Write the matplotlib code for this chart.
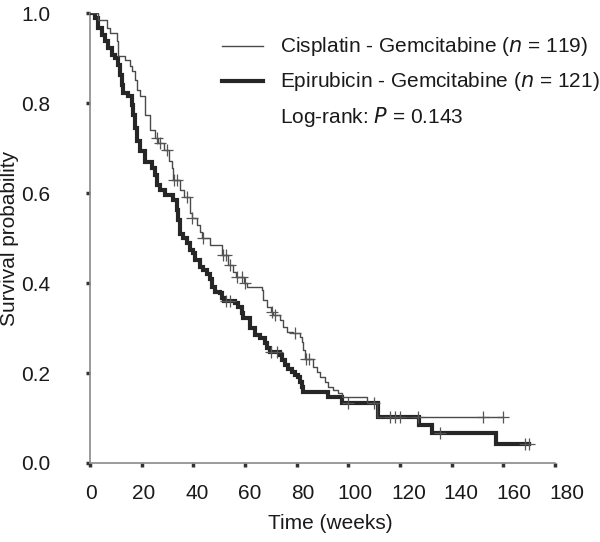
import numpy as np
import matplotlib
matplotlib.use("Agg")
import matplotlib.pyplot as plt
from matplotlib.transforms import ScaledTranslation

plt.rcParams['font.family'] = ['Liberation Sans', 'DejaVu Sans']

# Cisplatin - Gemcitabine (thin line): step times (weeks) and survival after step
cis_time = [0, 3.2, 6.5, 7.7, 10.3, 10.8, 13.5, 15.5, 16.1, 17.4, 18.1, 19.4, 21.3, 23.2,
            25.0, 26.5, 28.5, 30.5, 31.6, 32.2, 34.8, 36.5, 38.7, 39.4, 41.3, 42.6, 43.5,
            46.5, 51.0, 53.5, 55.5, 56.5, 59.5, 60.7, 66.5, 67.1, 68.4, 70.0, 71.0, 73.6,
            74.8, 76.2, 78.5, 81.3, 82.0, 82.6, 83.2, 86.4, 87.8, 89.0, 91.0, 92.3, 94.2,
            96.1, 97.4, 107.1, 111.1]
cis_surv = [1.0, 0.985, 0.967, 0.955, 0.937, 0.905, 0.895, 0.882, 0.871, 0.852, 0.83, 0.816,
            0.774, 0.74, 0.722, 0.711, 0.695, 0.672, 0.656, 0.63, 0.607, 0.592, 0.556, 0.544,
            0.529, 0.514, 0.499, 0.484, 0.462, 0.44, 0.425, 0.414, 0.399, 0.392, 0.384, 0.362,
            0.347, 0.336, 0.329, 0.318, 0.303, 0.292, 0.288, 0.28, 0.27, 0.251, 0.232, 0.214,
            0.203, 0.192, 0.181, 0.17, 0.162, 0.155, 0.147, 0.133, 0.103]
cis_end = 160
cis_cens = [25.8, 27.1, 29.7, 32.6, 33.6, 37.4, 39.4, 43.9, 51.5, 52.8, 54.2, 56.8, 58.7,
            60.0, 70.3, 71.6, 79.4, 83.6, 84.6, 110, 127, 152, 160]

# Epirubicin - Gemcitabine (thick line)
epi_time = [0, 1.9, 3.2, 4.5, 5.8, 7.1, 8.4, 9.7, 11.0, 11.6, 12.3, 12.9, 14.8, 16.1, 16.8,
            17.4, 18.1, 19.4, 21.3, 23.9, 25.2, 25.8, 27.1, 29.0, 32.3, 33.6, 34.2, 34.8,
            36.1, 37.4, 38.7, 40.0, 40.7, 42.6, 43.9, 45.2, 46.5, 47.1, 48.4, 50.3, 51.0,
            52.0, 56.1, 57.4, 58.7, 59.3, 61.9, 63.9, 65.8, 67.8, 68.4, 69.5, 73.6, 74.2,
            75.5, 76.8, 78.1, 79.4, 80.7, 81.3, 82.0, 82.6, 92.2, 97.4, 111.5, 127.4, 132.5,
            157.0]
epi_surv = [1.0, 0.989, 0.967, 0.952, 0.938, 0.922, 0.907, 0.9, 0.885, 0.863, 0.84, 0.822,
            0.815, 0.796, 0.774, 0.744, 0.715, 0.693, 0.67, 0.656, 0.641, 0.619, 0.607, 0.596,
            0.584, 0.562, 0.54, 0.51, 0.499, 0.488, 0.473, 0.466, 0.451, 0.436, 0.429, 0.421,
            0.41, 0.392, 0.381, 0.377, 0.366, 0.361, 0.355, 0.347, 0.333, 0.322, 0.3, 0.284,
            0.277, 0.266, 0.255, 0.247, 0.24, 0.229, 0.218, 0.21, 0.203, 0.196, 0.192, 0.181,
            0.17, 0.158, 0.147, 0.133, 0.103, 0.084, 0.067, 0.042]
epi_end = 170
epi_cens = [52.8, 54.2, 70.0, 72.3, 99.7, 116, 118, 120, 135.5, 168.5, 170]

x_ticks = [0, 20, 40, 60, 80, 100, 120, 140, 160, 180]
y_ticks = [0.0, 0.2, 0.4, 0.6, 0.8, 1.0]


def surv_at(times, survs, t):
    idx = np.searchsorted(np.asarray(times), t, side='right') - 1
    return np.asarray(survs)[idx]


FS = 15
TXT = '#1a1a1a'

fig = plt.figure(figsize=(6.0, 5.42), dpi=100)
ax = fig.add_axes([0.15, 0.1458, 0.775, 0.83])

tc = np.append(cis_time, cis_end)
sc = np.append(cis_surv, cis_surv[-1])
te = np.append(epi_time, epi_end)
se = np.append(epi_surv, epi_surv[-1])

ax.step(te, se, where='post', color='#262626', lw=3.0, solid_joinstyle='miter', zorder=3)
ax.step(tc, sc, where='post', color='#4a4a4a', lw=1.0, zorder=4)

ax.plot(cis_cens, surv_at(cis_time, cis_surv, cis_cens), ls='none', marker='+',
        ms=8, mew=0.9, color='#555555', zorder=5)
ax.plot(epi_cens, surv_at(epi_time, epi_surv, epi_cens), ls='none', marker='+',
        ms=8, mew=0.9, color='#555555', zorder=5)

ax.set_xlim(0, 180)
ax.set_ylim(0, 1.0)
ax.set_xticks(x_ticks)
ax.set_xticklabels([str(v) for v in x_ticks])
ax.set_yticks(y_ticks)
ax.set_yticklabels([f"{v:.1f}" for v in y_ticks])
for s in ['top', 'right']:
    ax.spines[s].set_visible(False)
for s in ['left', 'bottom']:
    ax.spines[s].set_color('#8a8a8a')
    ax.spines[s].set_linewidth(1.2)
ax.tick_params(axis='both', direction='out', length=3, width=2.5, color='#333333',
               labelsize=FS, labelcolor=TXT)
ax.tick_params(axis='y', pad=25.5)
ax.tick_params(axis='x', pad=12)

# the original's tick labels drift slightly to the right of their ticks
for v, lab in zip(x_ticks, ax.get_xticklabels()):
    dx_px = 1 + v * 0.061
    lab.set_transform(lab.get_transform() + ScaledTranslation(dx_px / 100, 0, fig.dpi_scale_trans))

ax.set_xlabel('Time (weeks)', fontsize=FS, color=TXT)
ax.set_ylabel('Survival probability', fontsize=FS, color=TXT)
ax.xaxis.set_label_coords(0.516, -0.113)
ax.yaxis.set_label_coords(-0.153, 0.5)

# Legend drawn as lines + text in axes fraction
lx0, lx1 = 0.284, 0.372
rows = [0.9267, 0.849, 0.769]
ax.plot([lx0, lx1], [rows[0], rows[0]], transform=ax.transAxes, color='#4a4a4a', lw=1.0,
        clip_on=False)
ax.plot([lx0, lx1], [rows[1], rows[1]], transform=ax.transAxes, color='#262626', lw=3.0,
        clip_on=False)
tx = 0.408
ax.text(tx, rows[0], 'Cisplatin - Gemcitabine ($\\it{n}$ = 119)', transform=ax.transAxes,
        fontsize=FS, va='center', ha='left', color=TXT)
ax.text(tx, rows[1], 'Epirubicin - Gemcitabine ($\\it{n}$ = 121)', transform=ax.transAxes,
        fontsize=FS, va='center', ha='left', color=TXT)
ax.text(tx, rows[2], 'Log-rank: $\\it{P}$ = 0.143', transform=ax.transAxes,
        fontsize=FS, va='center', ha='left', color=TXT)

fig.savefig('out.png', dpi=100)
